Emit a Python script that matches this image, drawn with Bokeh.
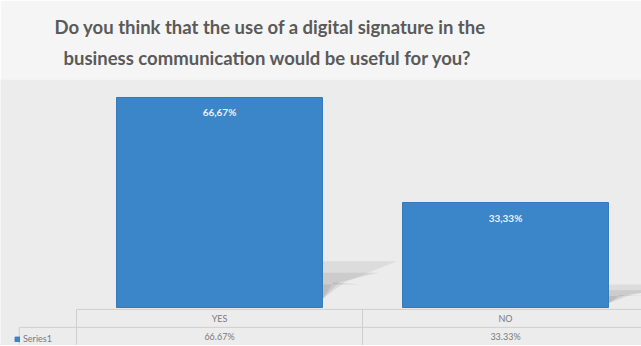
from bokeh.plotting import figure
from bokeh.models import ColumnDataSource, Range1d, Title, Legend, LegendItem
from bokeh.embed import file_html
from bokeh.resources import INLINE
from bokeh.core.properties import value

# ---- data ----
categories = ["YES", "NO"]
values = [66.67, 33.33]
series_name = "Series1"
title_lines = ["Do you think that the use of a digital signature in the",
               "business communication would be useful for you?"]

BAR = "#3b86c8"
TXT = "#7a7a7a"
LINE = "#cfcfcf"

idx = list(range(len(categories)))
xc = [i + 0.5 for i in idx]
bar_w = 0.72
src = ColumnDataSource(dict(
    x=xc, top=values, cat=categories,
    lab=[f"{v:.2f}%".replace(".", ",") for v in values],
    tab=[f"{v:.2f}%" for v in values],
))

px_per_unit_y = 3.15
frame_top = 80
y_end = (308 - frame_top) / px_per_unit_y
y_start = -(346 - 308) / px_per_unit_y
cat_px = 286.0
x_start = -76 / cat_px
x_end = 641 / cat_px + x_start

p = figure(width=641, frame_width=641, frame_height=346 - frame_top,
           x_range=Range1d(x_start, x_end), y_range=Range1d(y_start, y_end),
           x_axis_location=None, y_axis_location=None,
           output_backend="svg", toolbar_location=None, title=None,
           min_border_left=0, min_border_right=0, min_border_bottom=0, min_border_top=0)
p.grid.visible = False
p.outline_line_color = None
p.background_fill_color = "#ececec"
p.border_fill_color = "#f5f5f5"

# titles (added bottom line first so it sits closest to the plot)
offsets = [54, 63]
standoffs = [-6, 21]
for line, off, so in reversed(list(zip(title_lines, offsets, standoffs))):
    t = Title(text=line, align="left", text_font="Lato", text_font_style="bold",
              text_font_size="18.5px", text_color="#5a5a5a",
              standoff=so, offset=off)
    p.add_layout(t, "above")
p.add_layout(Title(text=" ", text_font_size="12.5px", standoff=0), "above")

# perspective shadows to the right of bars
for xi, v in zip(xc, values):
    r = xi + bar_w / 2
    for k, a in enumerate([0.12, 0.14, 0.16]):
        s = 1 - 0.25 * k
        p.patch([r, r, r + 0.26 * s, r + 0.26 * s * 0.3],
                [0.04 * v, 0.22 * v * s, 0.22 * v * s, 0.12 * v],
                fill_color="#6a6a6a", fill_alpha=a, line_color=None)

bars = p.vbar(x="x", top="top", bottom=0, width=bar_w, source=src,
              fill_color=BAR, line_color="#3579b8", line_width=1)

p.text(x="x", y="top", text="lab", source=src, text_align="center",
       text_baseline="middle", y_offset=15, text_color="#e8f0f8",
       text_font=value("Lato"), text_font_style="bold", text_font_size="10px")

# data table below the chart
row1 = -0.6
row2 = -6.3
p.segment(x0=[0, -0.2], x1=[x_end, x_end], y0=[row1, row2], y1=[row1, row2],
          line_color=LINE, line_width=1)
p.segment(x0=[0, 1], x1=[0, 1], y0=[row1, row1], y1=[y_start, y_start],
          line_color=LINE, line_width=1)
p.segment(x0=[-0.2], x1=[-0.2], y0=[row2], y1=[y_start], line_color=LINE, line_width=1)
p.text(x="x", y=(row1 + row2) / 2, text="cat", source=src, text_align="center",
       text_baseline="middle", text_color=TXT, text_font=value("Lato"),
       text_font_size="9px")
p.text(x="x", y=(row2 + y_start) / 2, text="tab", source=src, text_align="center",
       text_baseline="middle", text_color=TXT, text_font=value("Lato"),
       text_font_size="9px")

legend = Legend(items=[LegendItem(label=series_name, renderers=[bars])],
                location=(14, 1), orientation="horizontal",
                background_fill_alpha=0, border_line_color=None,
                label_text_font="Lato", label_text_font_size="9px",
                label_text_color=TXT, glyph_width=6, glyph_height=6,
                padding=2, margin=0, label_standoff=3)
p.add_layout(legend)

open("out.html", "w").write(file_html(p, INLINE))
